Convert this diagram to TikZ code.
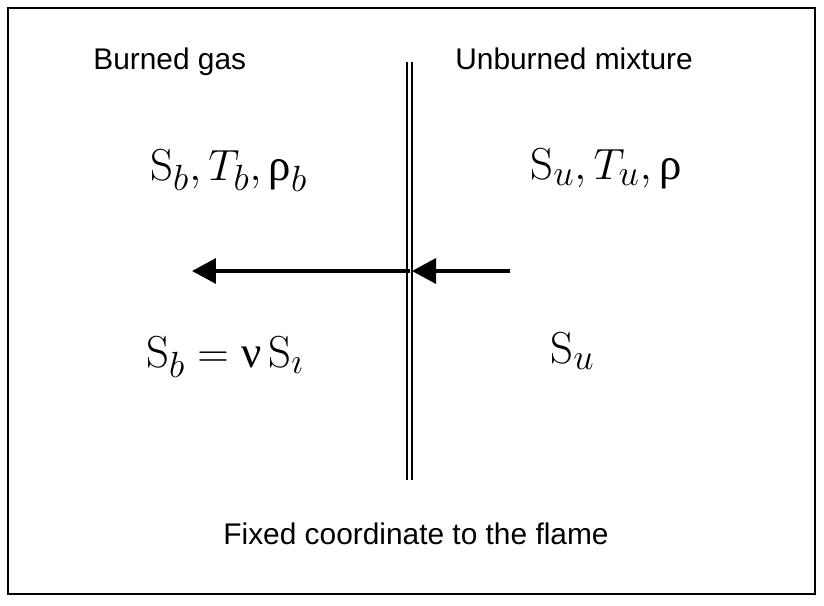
\documentclass[tikz,border=0pt]{standalone}
\usepackage{fontspec}
\setsansfont{Liberation Sans}
\newfontfamily\grk{Liberation Serif}
\renewcommand{\defaultscriptratio}{.82}
\usetikzlibrary{arrows.meta}

\begin{document}
\begin{tikzpicture}[x=0.02cm,y=-0.02cm,
  lbl/.style={font=\sffamily\fontsize{17}{20}\selectfont,anchor=base west,inner sep=0pt},
  sym/.style={font=\fontsize{25.5}{30}\selectfont,anchor=base west,inner sep=0pt},
  flow/.style={line width=2pt,-{Triangle[length=0.48cm,width=0.5cm]}}]
  \useasboundingbox (0,0) rectangle (824,605);
  \draw[line width=1.1pt] (8,8) rectangle (815,594);
  \coordinate (F1) at (409.5,62); \coordinate (F2) at (409.5,480);
  \draw[line width=1.1pt,double distance=1.5pt] (F1)--(F2);
  \coordinate (tailB) at (410,271); \coordinate (tipB) at (192,271);
  \coordinate (tailU) at (510,271); \coordinate (tipU) at (412,271);
  \draw[flow] (tailB)--(tipB); \draw[flow] (tailU)--(tipU);
  \node[lbl] (burned) at (93,69) {Burned gas};
  \node[lbl] (unburned) at (455,69) {Unburned mixture};
  \node[sym] (stateb) at (150,180) {$\mathrm{S}_b,T_b,\mbox{\grk ρ}_b$};
  \node[sym] (stateu) at (530,179) {$\mathrm{S}_u,T_u,\mbox{\grk ρ}$};
  \node[sym] (speedb) at (146,367) {$\mathrm{S}_b=\mbox{\grk ν}\,\mathrm{S}_\imath$};
  \node[sym] (speedu) at (550,363) {$\mathrm{S}_u$};
  \node[lbl,anchor=base] (fixed) at (416,544) {Fixed coordinate to the flame};
\end{tikzpicture}
\end{document}
